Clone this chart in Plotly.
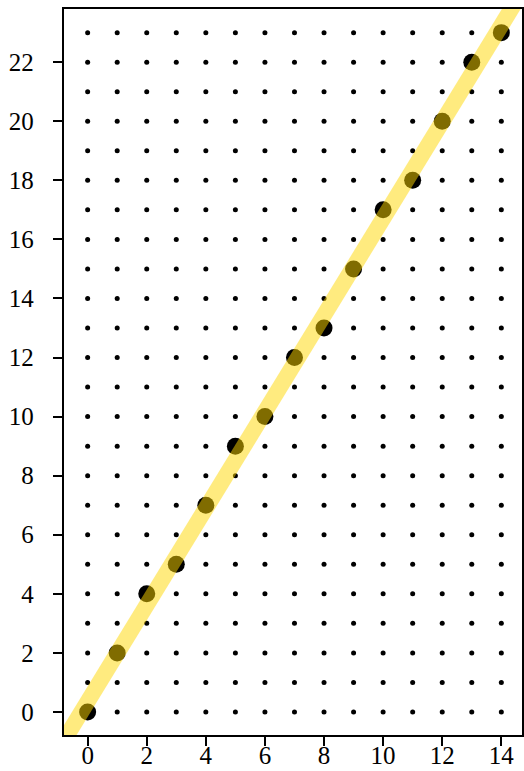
import numpy as np
import plotly.graph_objects as go

# data
x_vals = list(range(15))
y_vals = [0, 2, 4, 5, 7, 9, 10, 12, 13, 15, 17, 18, 20, 22, 23]
grid_x = list(range(15))
grid_y = list(range(24))
x_ticks = [0, 2, 4, 6, 8, 10, 12, 14]
y_ticks = [0, 2, 4, 6, 8, 10, 12, 14, 16, 18, 20, 22]

slope, intercept = np.polyfit(x_vals, y_vals, 1)
line_x = [-2, 16]
line_y = [slope * v + intercept for v in line_x]

gx, gy = np.meshgrid(grid_x, grid_y)

fig = go.Figure()
fig.add_trace(go.Scatter(x=gx.ravel(), y=gy.ravel(), mode="markers",
                         marker=dict(size=5, color="black"), hoverinfo="skip"))
fig.add_trace(go.Scatter(x=x_vals, y=y_vals, mode="markers",
                         marker=dict(size=17, color="black"), cliponaxis=False))
fig.add_trace(go.Scatter(x=line_x, y=line_y, mode="lines",
                         line=dict(color="rgba(255,215,0,0.5)", width=16)))

axis_common = dict(showgrid=False, zeroline=False, showline=True, linecolor="black",
                   linewidth=2.3, mirror=True, ticks="outside", ticklen=9,
                   tickwidth=2, tickcolor="black", automargin=False,
                   tickfont=dict(family="Liberation Serif, serif", size=25, color="black"))
fig.update_xaxes(range=[-0.8, 14.7], tickvals=x_ticks, ticklabelstandoff=-12, **axis_common)
fig.update_yaxes(range=[-0.78, 23.8], tickvals=y_ticks, ticklabelstandoff=14, **axis_common)

fig.update_layout(width=524, height=771, margin=dict(l=64, r=2, t=9, b=36),
                  plot_bgcolor="white", paper_bgcolor="white", showlegend=False)
fig.write_html("out.html")
